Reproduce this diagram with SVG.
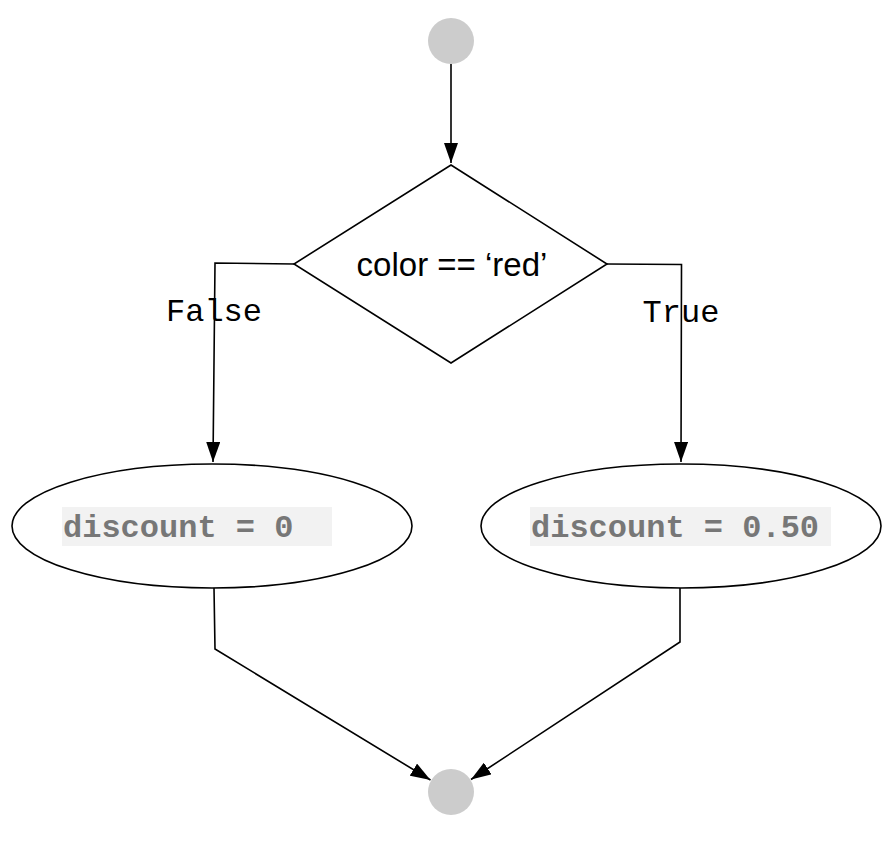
<svg xmlns="http://www.w3.org/2000/svg" width="896" height="844" viewBox="0 0 896 844">
<style>
.term{fill:#cccccc;stroke:none}
.shape{fill:#ffffff;stroke:#000000;stroke-width:1.6}
.edge{fill:none;stroke:#000000;stroke-width:1.6;marker-end:url(#arrow)}
.cond{font-family:"Liberation Sans",Arial,sans-serif;font-size:33px;fill:#000000;text-anchor:middle}
.lbl{font-family:"Liberation Mono","Courier New",monospace;font-size:32px;fill:#000000;text-anchor:middle}
.code{font-family:"Liberation Mono","Courier New",monospace;font-size:32px;font-weight:bold;fill:#777777}
.codebg{fill:#f2f2f2;stroke:none}
</style>
<defs>
<marker id="arrow" markerUnits="userSpaceOnUse" markerWidth="20" markerHeight="14" refX="20" refY="7" orient="auto">
<path d="M0,0 L20,7 L0,14 z" fill="#000000"/>
</marker>
</defs>
<g id="connectors">
<path class="edge" d="M451,64 L451,163"/>
<path class="edge" d="M294,264 L215,263 L213,462"/>
<path class="edge" d="M607,264 L681.5,264.5 L681,462"/>
<path class="edge" d="M214,588 L215,649 L430.5,780"/>
<path class="edge" d="M680,588 L680,642 L471,779.5"/>
<text class="lbl" x="214" y="321">False</text>
<text class="lbl" x="681" y="322">True</text>
</g>
<g id="start">
<circle class="term" cx="451" cy="41" r="23"/>
</g>
<g id="decision">
<polygon class="shape" points="451,165 607,264 451,363 294,264"/>
<text class="cond" x="452" y="276">color == ‘red’</text>
</g>
<g id="discount0">
<ellipse class="shape" cx="212" cy="526" rx="200" ry="62"/>
<rect class="codebg" x="62" y="507" width="270" height="39"/>
<text class="code" x="63" y="537">discount = 0</text>
</g>
<g id="discount050">
<ellipse class="shape" cx="681" cy="526" rx="200" ry="62"/>
<rect class="codebg" x="530" y="507" width="301" height="39"/>
<text class="code" x="531" y="537">discount = 0.50</text>
</g>
<g id="end">
<circle class="term" cx="451" cy="792" r="23"/>
</g>
</svg>
